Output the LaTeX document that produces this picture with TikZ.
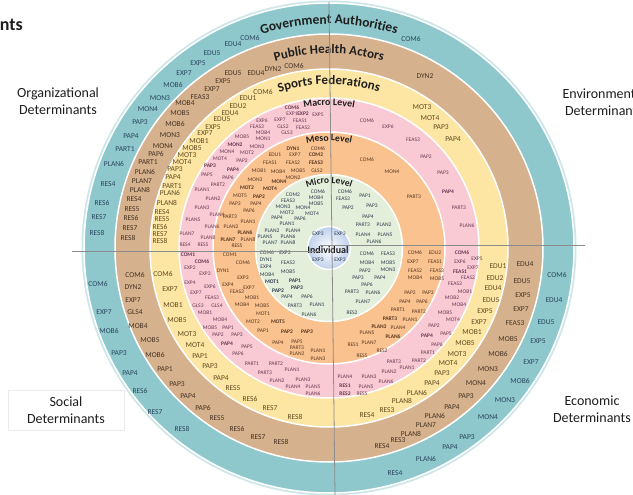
\documentclass[tikz,border=0pt]{standalone}
\usepackage{fontspec}
\setmainfont{Carlito}
\usetikzlibrary{decorations.text}
\definecolor{tealring}{RGB}{143,200,204}
\definecolor{tanring}{RGB}{214,177,141}
\definecolor{yellowring}{RGB}{253,229,163}
\definecolor{pinkring}{RGB}{250,202,212}
\definecolor{mesoring}{RGB}{249,194,143}
\definecolor{microring}{RGB}{227,238,219}
\definecolor{indring}{RGB}{190,208,236}
\definecolor{tealink}{RGB}{40,70,95}
\definecolor{tanink}{RGB}{70,50,35}
\definecolor{yellowink}{RGB}{95,75,30}
\definecolor{pinkink}{RGB}{100,55,80}
\definecolor{mesoink}{RGB}{90,55,30}
\definecolor{microink}{RGB}{45,60,75}
\definecolor{titleink}{RGB}{30,30,30}
\tikzstyle{ring} = [draw = white, line width = 1.5]
\tikzstyle{outcode} = [inner sep = 0, font = \fontsize{7.5}{8}\selectfont]
\tikzstyle{incode} = [inner sep = 0, font = \fontsize{5.5}{6}\selectfont]
\tikzstyle{corner} = [align = center, inner sep = 0,
  font = \fontsize{14}{17}\selectfont, text = titleink]
\tikzstyle{axis} = [draw = black!45, line width = 0.8]

\begin{document}
\begin{tikzpicture}[x = 1pt, y = -1pt]
      \clip (0, 0) rectangle (633, 495);
      \fill [white] (0, 0) rectangle (633, 495);
      % rings
      \coordinate (centre) at (329, 248);
      \fill [tealring!45] (centre) circle [radius = 247.5pt];
      \filldraw [ring, fill = tealring] (centre) circle [radius = 245pt];
      \filldraw [ring, fill = tanring] (centre) circle [radius = 214pt];
      \filldraw [ring, fill = yellowring] (centre) circle [radius = 179pt];
      \filldraw [ring, fill = pinkring] (centre) circle [radius = 150pt];
      \filldraw [ring, fill = mesoring] (centre) circle [radius = 116pt];
      \filldraw [ring, fill = microring] (centre) circle [radius = 73.5pt];
      \shadedraw [ring, inner color = white, outer color = indring]
        (centre) circle [radius = 21.5pt];

      % ring titles
      \path [decorate, decoration = {text along path, text align = center,
        text = {|\fontsize{13.5}{14}\selectfont\bfseries\color{titleink}|Government Authorities}}]
        ([shift = {(-150 : 224)}] centre) arc (-150 : -30 : 224);
      \path [decorate, decoration = {text along path, text align = center,
        text = {|\fontsize{13}{14}\selectfont\bfseries\color{titleink}|Public Health Actors}}]
        ([shift = {(-150 : 194.5)}] centre) arc (-150 : -30 : 194.5);
      \path [decorate, decoration = {text along path, text align = center,
        text = {|\fontsize{13}{14}\selectfont\bfseries\color{titleink}|Sports Federations}}]
        ([shift = {(-150 : 163.5)}] centre) arc (-150 : -30 : 163.5);
      \path [decorate, decoration = {text along path, text align = center,
        text = {|\fontsize{10}{11}\selectfont\bfseries\color{titleink}|Macro Level}}]
        ([shift = {(-150 : 142.5)}] centre) arc (-150 : -30 : 142.5);
      \path [decorate, decoration = {text along path, text align = center,
        text = {|\fontsize{9.6}{10}\selectfont\bfseries\color{titleink}|Meso Level}}]
        ([shift = {(-150 : 107)}] centre) arc (-150 : -30 : 107);
      \path [decorate, decoration = {text along path, text align = center,
        text = {|\fontsize{9.4}{10}\selectfont\bfseries\color{titleink}|Micro Level}}]
        ([shift = {(-150 : 64.5)}] centre) arc (-150 : -30 : 64.5);
      \node [inner sep = 0, font = \fontsize{10}{11}\selectfont\bfseries, text = titleink]
        (individual) at (328, 250) {Individual};

      % government authorities
      \foreach \x/\y/\t [count = \i] in {250/38/COM6, 233/44/EDU4, 212/53/EDU5,
        198/63/EXP5, 184/73/EXP7, 173/85/MOB6, 160/98/MON3, 148/109/MON4,
        140/122/PAP3, 131/136/PAP4, 125/149/PART1, 114/164/PLAN6, 108/184/RES4,
        102/203/RES6, 99/217/RES7, 97/233/RES8, 98/284/COM6, 104/312/EXP7,
        109/331/MOB6, 119/353/PAP3, 130/373/PAP4, 140/391/RES6, 155/412/RES7,
        182/429/RES8, 411/39/COM6, 557/275/COM6, 554/300/EDU4, 546/322/EDU5,
        538/341/EXP5, 531/362/EXP7, 520/381/MOB6, 505/400/MON3, 488/417/MON4,
        467/437/PAP3, 450/447/PAP4, 426/459/PLAN6, 395/473/RES4}
        \node [outcode, text = tealink] (gov-\i) at (\x, \y) {\t};

      % public health actors
      \foreach \x/\y/\t [count = \i] in {294/66/COM6, 273/69/DYN2, 256/73/EDU4,
        233/73/EDU5, 223/81/EXP5, 212/89/EXP7, 200/97/FEAS3, 185/103/MOB4,
        180/113/MOB5, 175/124/MOB6, 170/135/MON3, 163/146/MON4, 156/154/PAP6,
        148/162/PART1, 145/172/PLAN6, 142/181/PLAN7, 140/190/PLAN8, 134/199/RES4,
        132/209/RES5, 131/218/RES6, 130/228/RES7, 128/238/RES8, 135/275/COM6,
        133/287/DYN2, 133/300/EXP7, 135/312/GLS4, 138/326/MOB4, 150/340/MOB5,
        155/355/MOB6, 165/369/PAP1, 177/384/PAP3, 188/396/PAP4, 203/408/PAP6,
        217/418/RES5, 237/429/RES6, 258/437/RES7, 281/442/RES8, 425/76/DYN2,
        525/264/EDU4, 522/281/EDU5, 523/295/EXP5, 521/309/EXP7, 515/323/FEAS3,
        508/339/MOB5, 498/354/MOB6, 488/369/MON3, 476/383/MON4, 466/396/PAP3,
        452/407/PAP4, 435/416/PLAN6, 426/425/PLAN7, 411/434/PLAN8, 398/440/RES3,
        382/446/RES4}
        \node [outcode, text = tanink] (pha-\i) at (\x, \y) {\t};

      % sports federations
      \foreach \x/\y/\t [count = \i] in {263/92/COM6, 248/98/EDU1, 238/106/EDU2,
        230/113/EDU4, 222/119/EDU5, 213/127/EXP5, 205/133/EXP7, 199/141/MOB1,
        192/148/MOB5, 187/155/MOT3, 182/162/MOT4, 175/169/PAP3, 173/177/PAP4,
        172/186/PART1, 170/193/PLAN6, 167/203/PLAN8, 162/212/RES4, 162/219/RES5,
        160/227/RES6, 160/234/RES7, 160/241/RES8, 163/274/COM6, 170/289/EXP7,
        173/305/MOB1, 177/320/MOB5, 187/334/MOT3, 195/345/MOT4, 200/356/PAP1,
        210/366/PAP3, 221/378/PAP4, 233/388/RES5, 250/399/RES6, 270/408/RES7,
        295/417/RES8, 422/107/MOT3, 430/118/MOT4, 441/127/PAP3, 453/139/PAP4,
        498/266/EDU1, 495/278/EDU2, 493/288/EDU4, 491/300/EDU5, 485/311/EXP5,
        479/322/EXP7, 472/332/MOB1, 465/343/MOB5, 457/354/MOT3, 448/363/MOT4,
        442/373/PAP3, 432/383/PAP4, 417/393/PLAN6, 402/401/PLAN8, 387/410/RES3,
        367/415/RES4}
        \node [outcode, text = yellowink] (spf-\i) at (\x, \y) {\t};

      % macro level
      \foreach \x/\y/\t [count = \i] in {292/108/\textbf{COM6}, 292/114/EXP1,
        303/114/\textbf{EXP2}, 318/115/EXP5, 262/121/EXP6, 280/120/EXP7,
        300/121/FEAS1, 257/127/FEAS3, 283/127/GLS2, 303/128/FEAS2, 263/133/MOB4,
        287/133/GLS3, 242/137/MOB5, 263/139/MON1, 235/145/\textbf{MON2},
        257/147/MON3, 227/152/MON4, 247/153/MOT2, 220/159/MOT4, 242/161/PAP2,
        210/166/\textbf{PAP3}, 233/170/\textbf{PAP4}, 207/175/PAP5, 228/178/PAP6,
        218/185/PART2, 202/190/PLAN1, 213/199/PLAN2, 202/208/PLAN3, 217/215/PLAN4,
        193/220/PLAN5, 212/227/PLAN6, 187/234/PLAN7, 208/238/PLAN8, 185/245/RES4,
        203/245/RES5, 367/121/COM6, 388/127/EXP6, 413/140/FEAS3, 426/157/PAP2,
        443/173/PAP3, 448/192/\textbf{PAP4}, 459/208/PART3, 467/226/PLAN6,
        188/255/\textbf{COM1}, 202/262/\textbf{COM6}, 190/268/EXP2, 205/274/EXP3,
        190/283/EXP4, 210/287/EXP6, 196/293/EXP7, 212/298/FEAS3, 198/306/GLS3,
        217/306/GLS4, 205/313/MOB1, 220/320/MOB4, 210/328/MOB5, 228/328/PAP1,
        218/335/PAP2, 237/335/PAP3, 227/344/\textbf{PAP4}, 247/347/PAP5,
        238/354/PAP6, 252/364/PART1, 276/364/PART2, 265/373/PART3, 292/370/PLAN1,
        277/381/PLAN2, 303/380/PLAN3, 293/387/PLAN4, 313/387/PLAN5, 313/394/PLAN6,
        462/253/\textbf{COM6}, 477/259/EXP5, 460/262/EXP6, 473/268/EXP7,
        460/272/\textbf{FEAS1}, 468/278/FEAS2, 455/284/FEAS3, 465/292/MOB1,
        452/298/MOB2, 459/305/MOB4, 445/313/MOB5, 453/320/MOT4, 434/326/PAP2,
        427/336/\textbf{PAP4}, 446/334/PAP5, 437/345/PAP6, 428/353/PART1,
        419/361/PART2, 394/362/PART3, 407/368/PLAN1, 389/372/PLAN2, 369/377/PLAN3,
        345/377/PLAN4, 386/382/PLAN6, 366/387/PLAN5, 345/386/\textbf{RES1},
        345/394/\textbf{RES2}, 362/394/RES5}
        \node [incode, text = pinkink] (mac-\i) at (\x, \y) {\t};

      % meso level
      \foreach \x/\y/\t [count = \i] in {293/149/\textbf{DYN1}, 318/149/COM6,
        275/155/EDU1, 295/155/EXP7, 316/155/\textbf{COM2}, 270/163/FEAS1,
        293/163/FEAS2, 316/163/\textbf{FEAS3}, 259/171/MOB1, 278/172/MOB4,
        298/171/MOB5, 317/171/GLS2, 293/178/MON2, 255/180/MON3,
        279/182/\textbf{MON4}, 247/188/\textbf{MOT2}, 270/189/\textbf{MOT4},
        240/196/MOT5, 259/197/\textbf{PAP2}, 235/204/PAP3, 256/204/PAP4,
        249/211/PAP6, 230/217/PART3, 248/222/PLAN1, 231/227/PLAN2,
        245/233/\textbf{PLAN6}, 228/240/\textbf{PLAN7}, 248/240/PLAN8,
        237/246/RES5, 367/160/COM6, 392/172/MON4, 414/197/PART3, 230/255/COM1,
        243/263/COM6, 223/271/DYN1, 243/278/EXP3, 228/285/EXP4, 249/288/EXP7,
        237/292/FEAS3, 252/298/MOB1, 242/305/MOB4, 262/306/MOB5, 263/314/MOT1,
        253/322/MOT2, 278/322/\textbf{MOT5}, 263/331/PAP1, 287/332/\textbf{PAP2},
        307/332/\textbf{PAP3}, 278/343/PAP4, 297/342/PAP5, 297/348/PART3,
        297/354/PLAN2, 318/351/PLAN1, 318/359/PLAN3, 415/253/COM6, 435/253/EDU2,
        413/262/EXP7, 435/262/FEAS1, 415/271/FEAS2, 437/271/FEAS3, 415/278/MOB4,
        437/279/MOB5, 410/293/PAP2, 428/293/PAP3, 405/302/PAP4, 422/302/PAP6,
        398/310/PART1, 419/312/PART2, 390/319/\textbf{PART3}, 410/320/PLAN1,
        379/327/\textbf{PLAN3}, 398/328/PLAN4, 367/333/PLAN5,
        393/337/\textbf{PLAN6}, 369/343/PLAN7, 353/345/RES1, 382/351/RES2,
        362/356/RES5}
        \node [incode, text = mesoink] (mes-\i) at (\x, \y) {\t};

      % micro level
      \foreach \x/\y/\t [count = \i] in {293/195/COM2, 318/192/COM6,
        288/201/FEAS3, 316/198/MOB4, 316/204/MOB5, 283/207/MON3, 303/208/MON4,
        287/213/MOT2, 312/214/MOT4, 277/218/PAP4, 300/219/PAP6, 287/224/PLAN1,
        272/231/PLAN2, 293/231/PLAN4, 265/237/PLAN5, 288/237/PLAN6,
        270/243/PLAN7, 288/243/PLAN8, 345/192/COM6, 343/199/FEAS3, 365/196/PAP1,
        348/208/PAP2, 372/206/PAP3, 368/217/PAP4, 363/225/PART3, 384/225/PLAN2,
        363/235/PLAN4, 385/235/PLAN5, 374/242/PLAN6, 267/253/COM6, 285/253/EXP3,
        266/260/DYN1, 288/263/FEAS3, 266/267/EXP4, 288/272/MOB5, 267/275/MOB4,
        272/282/\textbf{MOT1}, 295/281/\textbf{PAP1}, 278/291/\textbf{PAP2},
        297/288/\textbf{PAP3}, 287/297/PAP4, 307/297/PAP6, 295/306/PART3,
        317/305/PLAN1, 309/315/PLAN6, 367/254/COM6, 388/254/FEAS3, 367/263/MOB4,
        388/263/MOB5, 365/271/PAP2, 388/270/MON3, 358/278/PAP3, 380/278/PAP4,
        367/285/PAP6, 352/292/PART3, 373/293/PLAN6, 363/302/PLAN7, 352/313/RES2}
        \node [incode, text = microink] (mic-\i) at (\x, \y) {\t};

      % individual
      \foreach \x/\y [count = \i] in {318/234, 340/234, 318/260, 340/260}
        \node [incode, text = microink] (ind-\i) at (\x, \y) {EXP3};

      % determinants
      \node [inner sep = 0, anchor = base east, text = titleink,
        font = \fontsize{18}{18}\selectfont\bfseries] (top-left) at (23, 31) {nts};
      \node [corner] (organizational) at (58, 101.5)
        {Organizational\\Determinants};
      \node [corner] (environmental) at (604, 102)
        {Environmental\\Determinants};
      \node [corner, draw = black!8, minimum width = 116, minimum height = 40]
        (social) at (66, 410) {Social\\Determinants};
      \node [corner] (economic) at (592, 409) {Economic\\Determinants};

      % axes
      \coordinate (west) at (72, 251);
      \coordinate (west-end) at (322, 251);
      \coordinate (east-end) at (320, 245);
      \coordinate (east) at (585, 245);
      \coordinate (north) at (329, 2);
      \coordinate (south) at (335, 495);
      \draw [axis] (west) -- (west-end);
      \draw [axis] (east-end) -- (east);
      \draw [axis] (north) -- (south);
    \end{tikzpicture}
\end{document}
